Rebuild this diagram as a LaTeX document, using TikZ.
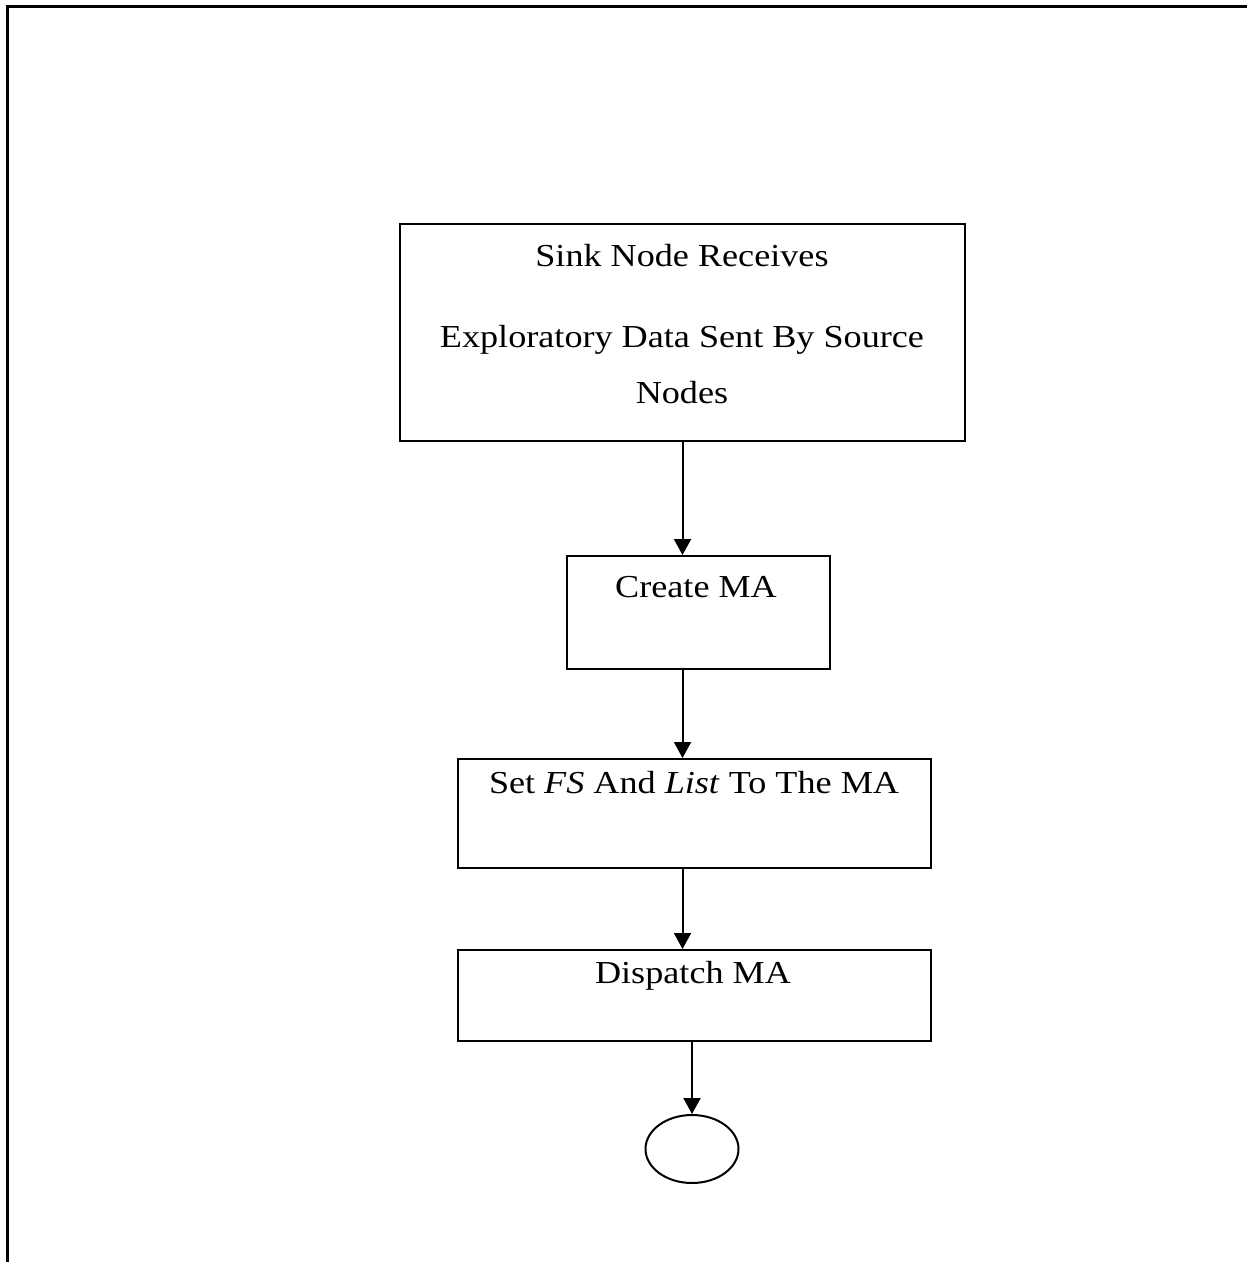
\documentclass[tikz,border=0pt]{standalone}
\usepackage{fontspec}
\setmainfont{Liberation Serif}[FakeStretch=1.13]
\usepackage{tikz}
\usetikzlibrary{positioning,arrows.meta,shapes.geometric}
\tikzset{
  stepbox/.style = {draw, line width=1pt, rectangle, inner sep=0pt},
  endnode/.style = {draw, line width=1pt, ellipse, inner sep=0pt, minimum width=46.5pt, minimum height=34pt},
  lbl/.style     = {inner sep=0pt, align=center, font=\fontsize{16}{28}\selectfont},
  flow/.style    = {-{Triangle[length=8pt,width=8.5pt]}, line width=1pt},
}

\begin{document}
\begin{tikzpicture}[x=0.5pt,y=-0.5pt]
  \useasboundingbox (0,0) rectangle (1247,1262);
  \draw[line width=1.5pt] (7,1262) -- (7,7) -- (1247,7);

  \node[stepbox, minimum width=282.5pt, minimum height=108.5pt] (recv) at (682.5,332.5) {};
  \node[stepbox, minimum width=131.5pt, minimum height=56.5pt] (create) at (698.5,612.5) {};
  \node[stepbox, minimum width=236.5pt, minimum height=54.5pt] (setfs) at (694.5,813.5) {};
  \node[stepbox, minimum width=236.5pt, minimum height=45.5pt] (dispatch) at (694.5,995.5) {};
  \node[endnode] (stop) at (692,1149) {};

  \node[lbl, anchor=base] (recvtxt) at (682,403) {Sink Node Receives\\[12.5pt]Exploratory Data Sent By Source\\Nodes};
  \node[lbl, anchor=base] (createtxt) at (696,597) {Create MA};
  \node[lbl, anchor=base] (setfstxt) at (694,793) {Set \textit{FS} And \textit{List} To The MA};
  \node[lbl, anchor=base] (dispatchtxt) at (693,983) {Dispatch MA};

  \draw[flow] (recv.south) -- (recv.south |- create.north);
  \draw[flow] (create.south -| recv.south) -- (setfs.north -| recv.south);
  \draw[flow] (setfs.south -| recv.south) -- (dispatch.north -| recv.south);
  \draw[flow] (dispatch.south -| stop.north) -- (stop.north);
\end{tikzpicture}
\end{document}
